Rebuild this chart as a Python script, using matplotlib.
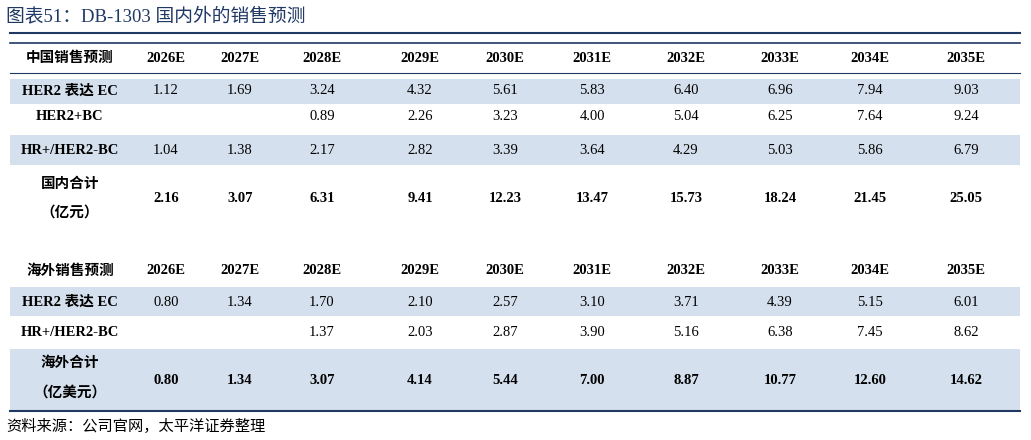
import matplotlib.pyplot as plt
from matplotlib.patches import Rectangle

years = ["2026E", "2027E", "2028E", "2029E", "2030E", "2031E", "2032E", "2033E", "2034E", "2035E"]

cn_labels = ["HER2 表达 EC", "HER2+BC", "HR+/HER2-BC"]
cn_ec = ["1.12", "1.69", "3.24", "4.32", "5.61", "5.83", "6.40", "6.96", "7.94", "9.03"]
cn_bc = ["", "", "0.89", "2.26", "3.23", "4.00", "5.04", "6.25", "7.64", "9.24"]
cn_hr = ["1.04", "1.38", "2.17", "2.82", "3.39", "3.64", "4.29", "5.03", "5.86", "6.79"]
cn_total = ["2.16", "3.07", "6.31", "9.41", "12.23", "13.47", "15.73", "18.24", "21.45", "25.05"]

os_labels = ["HER2 表达 EC", "HR+/HER2-BC"]
os_ec = ["0.80", "1.34", "1.70", "2.10", "2.57", "3.10", "3.71", "4.39", "5.15", "6.01"]
os_hr = ["", "", "1.37", "2.03", "2.87", "3.90", "5.16", "6.38", "7.45", "8.62"]
os_total = ["0.80", "1.34", "3.07", "4.14", "5.44", "7.00", "8.87", "10.77", "12.60", "14.62"]

W, H = 1031, 440
fig = plt.figure(figsize=(W / 100, H / 100), dpi=100)
ax = fig.add_axes([0, 0, 1, 1])
ax.set_xlim(0, W)
ax.set_ylim(H, 0)
ax.axis("off")

FAM = ["Liberation Serif", "Noto Sans CJK SC"]
NAVY = "#1F3864"
SHADE = "#D5E0EE"
col_x = [166, 240, 322, 420, 505, 592, 686, 780, 870, 966]
label_x = 70


def txt(x, y, s, bold=False, size=10.5, ha="center", **kw):
    ax.text(x, y, s, ha=ha, va="center", fontsize=size, family=FAM,
            fontweight="bold" if bold else "normal", **kw)


def shade(y0, y1):
    ax.add_patch(Rectangle((10, y0), 1010, y1 - y0, color=SHADE, lw=0))


def hline(y, lw=1.0):
    ax.plot([10, 1020], [y, y], color=NAVY, lw=lw)


# title
txt(6, 16, "图表51：DB-1303 国内外的销售预测", size=13.5, ha="left", color=NAVY)
hline(33, 1.5)

# --- domestic table ---
hline(43, 1.2)
txt(label_x, 58, "中国销售预测", bold=True)
for x, y in zip(col_x, years):
    txt(x, 58, y, bold=True)
hline(73, 0.8)
shade(79, 104)
shade(135, 165)
rows_y = [91, 117, 150]
for lab, vals, y in zip(cn_labels, [cn_ec, cn_bc, cn_hr], rows_y):
    txt(label_x, y, lab, bold=True)
    for x, v in zip(col_x, vals):
        txt(x, y, v)
txt(label_x, 184, "国内合计", bold=True)
txt(label_x, 213, "（亿元）", bold=True)
for x, v in zip(col_x, cn_total):
    txt(x, 199, v, bold=True)

# --- overseas table ---
txt(label_x, 271, "海外销售预测", bold=True)
for x, y in zip(col_x, years):
    txt(x, 271, y, bold=True)
shade(287, 316)
shade(349, 410)
for lab, vals, y in zip(os_labels, [os_ec, os_hr], [302, 333]):
    txt(label_x, y, lab, bold=True)
    for x, v in zip(col_x, vals):
        txt(x, y, v)
txt(label_x, 363, "海外合计", bold=True)
txt(label_x, 393, "（亿美元）", bold=True)
for x, v in zip(col_x, os_total):
    txt(x, 380, v, bold=True)
hline(411, 1.5)

txt(6, 426, "资料来源：公司官网，太平洋证券整理", size=11, ha="left", style="italic")

fig.savefig("out.png", dpi=100)
